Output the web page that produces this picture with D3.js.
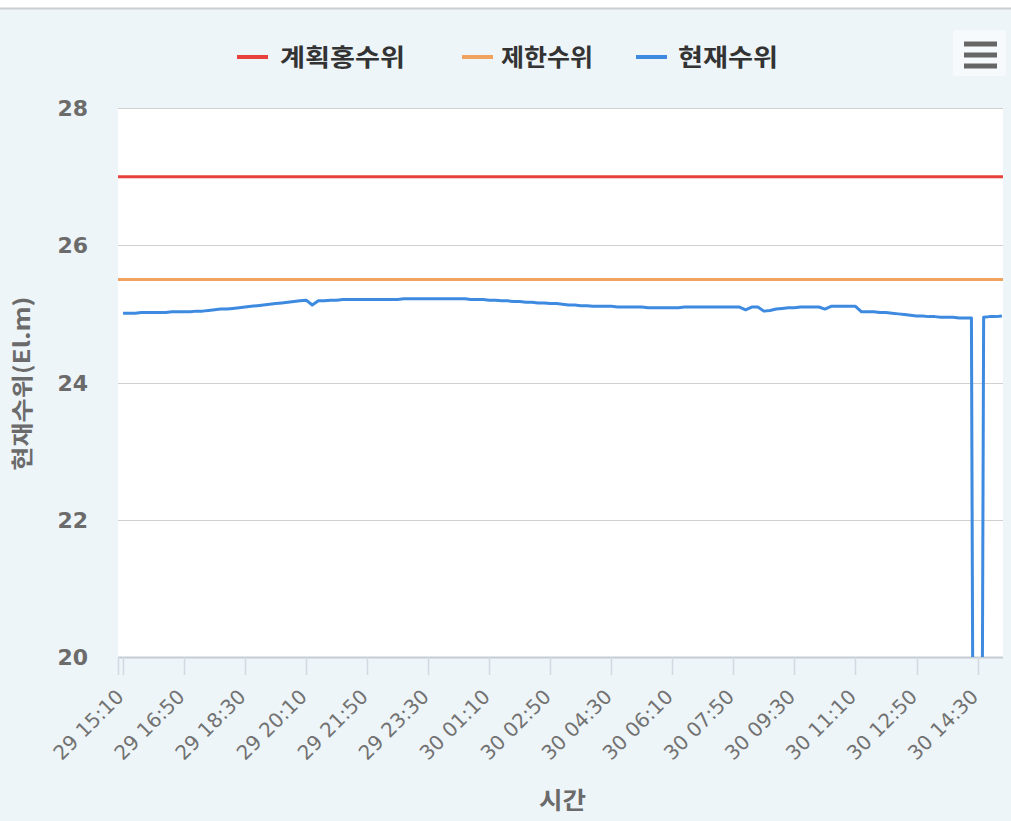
<!DOCTYPE html>
<html>
<head>
<meta charset="utf-8">
<script src="https://cdn.jsdelivr.net/npm/d3@7"></script>
<style>
  html, body { margin: 0; padding: 0; background: #eef5f9; }
  svg { display: block; }
</style>
</head>
<body>
<svg id="chart" width="1011" height="821"></svg>
<script>
// ---- data ----
const seriesNames = ["계획홍수위", "제한수위", "현재수위"];
const seriesColors = ["#e8403a", "#f0a25e", "#3d8ae0"];
const planFloodLevel = 27.0;
const limitLevel = 25.5;
const startTime = "2000-01-29 15:10"; // day 29, every 10 minutes
const currentLevel = [
  25.01, 25.01, 25.01, 25.02, 25.02, 25.02, 25.02, 25.02, 25.03, 25.03,
  25.03, 25.03, 25.04, 25.04, 25.05, 25.06, 25.07, 25.07, 25.08, 25.09,
  25.10, 25.11, 25.12, 25.13, 25.14, 25.15, 25.16, 25.17, 25.18, 25.19,
  25.20, 25.13, 25.19, 25.19, 25.20, 25.20, 25.21, 25.21, 25.21, 25.21,
  25.21, 25.21, 25.21, 25.21, 25.21, 25.21, 25.22, 25.22, 25.22, 25.22,
  25.22, 25.22, 25.22, 25.22, 25.22, 25.22, 25.22, 25.21, 25.21, 25.21,
  25.20, 25.20, 25.19, 25.19, 25.18, 25.18, 25.17, 25.17, 25.16, 25.16,
  25.15, 25.15, 25.14, 25.13, 25.13, 25.12, 25.12, 25.11, 25.11, 25.11,
  25.11, 25.10, 25.10, 25.10, 25.10, 25.10, 25.09, 25.09, 25.09, 25.09,
  25.09, 25.09, 25.10, 25.10, 25.10, 25.10, 25.10, 25.10, 25.10, 25.10,
  25.10, 25.10, 25.06, 25.10, 25.10, 25.04, 25.05, 25.07, 25.08, 25.09,
  25.09, 25.10, 25.10, 25.10, 25.10, 25.07, 25.11, 25.11, 25.11, 25.11,
  25.11, 25.03, 25.03, 25.03, 25.02, 25.02, 25.01, 25.00, 24.99, 24.98,
  24.97, 24.97, 24.96, 24.96, 24.95, 24.95, 24.95, 24.94, 24.94, 24.94,
  0.00, 24.95, 24.96, 24.96, 24.97
];
const tickLabels = ["29 15:10", "29 16:50", "29 18:30", "29 20:10", "29 21:50", "29 23:30",
  "30 01:10", "30 02:50", "30 04:30", "30 06:10", "30 07:50", "30 09:30",
  "30 11:10", "30 12:50", "30 14:30"];
const yTicks = [20, 22, 24, 26, 28];
const yTitle = "현재수위(El.m)";
const xTitle = "시간";

// categories: one per 10 minutes
const parse = d3.timeParse("%Y-%m-%d %H:%M");
const fmt = d3.timeFormat("%d %H:%M");
const t0 = parse(startTime);
const categories = currentLevel.map((_, i) => fmt(d3.timeMinute.offset(t0, i * 10)));

// ---- layout ----
const svg = d3.select("#chart");
const W = 1011, H = 821;
const plot = { left: 118, right: 1003, top: 108, bottom: 657 };

const x = d3.scaleLinear().domain([-0.5, categories.length - 0.5]).range([120, 1005]);
const y = d3.scaleLinear().domain([20, 28]).range([plot.bottom, plot.top]);

// top white strip
svg.append("rect").attr("x", 0).attr("y", 0).attr("width", W).attr("height", 8).attr("fill", "#ffffff");
svg.append("line").attr("x1", 0).attr("x2", W).attr("y1", 8.5).attr("y2", 8.5)
  .attr("stroke", "#c9cdd0").attr("stroke-width", 2);

// plot background
svg.append("rect").attr("x", plot.left).attr("y", plot.top)
  .attr("width", plot.right - plot.left).attr("height", plot.bottom - plot.top)
  .attr("fill", "#ffffff");

// grid lines
svg.append("g").selectAll("line").data(yTicks.filter(d => d !== 20)).join("line")
  .attr("x1", plot.left).attr("x2", plot.right)
  .attr("y1", d => Math.round(y(d)) + 0.5).attr("y2", d => Math.round(y(d)) + 0.5)
  .attr("stroke", "#d0d0d0").attr("stroke-width", 1);

// y tick labels
svg.append("g").selectAll("text").data(yTicks).join("text")
  .attr("x", 88).attr("y", d => y(d) + 8)
  .attr("text-anchor", "end")
  .attr("font-family", "DejaVu Sans")
  .attr("font-weight", "bold")
  .attr("font-size", 22)
  .attr("fill", "#6b6b6b")
  .text(d => d);

// y title
svg.append("text")
  .attr("transform", `translate(30, ${(plot.top + plot.bottom) / 2 + 1}) rotate(-90)`)
  .attr("text-anchor", "middle")
  .attr("font-family", "Noto Sans CJK KR")
  .attr("font-weight", "bold")
  .attr("font-size", 22)
  .attr("textLength", 174)
  .attr("lengthAdjust", "spacingAndGlyphs")
  .attr("fill", "#6b6b6b")
  .text(yTitle);

// x axis
const tickIdx = tickLabels.map(l => categories.indexOf(l));
const xAxisG = svg.append("g");
xAxisG.append("line").attr("x1", plot.left).attr("x2", plot.right)
  .attr("y1", plot.bottom + 0.5).attr("y2", plot.bottom + 0.5)
  .attr("stroke", "#c5cbd3").attr("stroke-width", 2);
xAxisG.selectAll("line.tick").data([-0.5].concat(tickIdx)).join("line")
  .attr("class", "tick")
  .attr("x1", d => Math.round(d < 0 ? plot.left : x(d)) + 0.5)
  .attr("x2", d => Math.round(d < 0 ? plot.left : x(d)) + 0.5)
  .attr("y1", plot.bottom).attr("y2", plot.bottom + 18)
  .attr("stroke", "#d3d9e0").attr("stroke-width", 1.5);
xAxisG.selectAll("text").data(tickIdx).join("text")
  .attr("transform", d => `translate(${x(d) + 2}, ${plot.bottom + 41}) rotate(-45)`)
  .attr("text-anchor", "end")
  .attr("font-family", "DejaVu Sans")
  .attr("font-size", 20)
  .attr("fill", "#727272")
  .text(d => categories[d]);

// x title
svg.append("text")
  .attr("x", (plot.left + plot.right) / 2 + 2).attr("y", 809)
  .attr("text-anchor", "middle")
  .attr("font-family", "Noto Sans CJK KR")
  .attr("font-weight", "bold")
  .attr("font-size", 24)
  .attr("textLength", 47)
  .attr("lengthAdjust", "spacingAndGlyphs")
  .attr("fill", "#6b6b6b")
  .text(xTitle);

// clip
svg.append("clipPath").attr("id", "clip").append("rect")
  .attr("x", plot.left).attr("y", plot.top - 5)
  .attr("width", plot.right - plot.left).attr("height", plot.bottom - plot.top + 5);

const lines = svg.append("g").attr("clip-path", "url(#clip)");
const lineGen = d3.line().x((d, i) => x(i)).y(d => y(d));
const flatGen = d3.line()
  .x((d, i) => i === 0 ? plot.left : (i === currentLevel.length - 1 ? plot.right : x(i)))
  .y(d => y(d));

lines.append("path").datum(currentLevel.map(() => planFloodLevel))
  .attr("d", flatGen)
  .attr("fill", "none").attr("stroke", seriesColors[0]).attr("stroke-width", 3);
lines.append("path").datum(currentLevel.map(() => limitLevel))
  .attr("d", flatGen)
  .attr("fill", "none").attr("stroke", seriesColors[1]).attr("stroke-width", 3);
lines.append("path").datum(currentLevel)
  .attr("d", lineGen)
  .attr("fill", "none").attr("stroke", seriesColors[2]).attr("stroke-width", 3)
  .attr("stroke-linejoin", "round");

// legend (layout positions)
const legend = svg.append("g");
const legendSymbolX = [237, 462, 636];
const legendTextX = [280, 501, 678];
const legendWidths = [125, 92, 100];
seriesNames.forEach((name, i) => {
  const g = legend.append("g");
  g.append("line").attr("x1", legendSymbolX[i]).attr("x2", legendSymbolX[i] + 31)
    .attr("y1", 57).attr("y2", 57)
    .attr("stroke", seriesColors[i]).attr("stroke-width", 4);
  g.append("text").attr("x", legendTextX[i]).attr("y", 66)
    .attr("font-family", "Noto Sans CJK KR")
    .attr("font-weight", "bold")
    .attr("font-size", 24)
    .attr("textLength", legendWidths[i])
    .attr("lengthAdjust", "spacingAndGlyphs")
    .attr("fill", "#333333")
    .text(name);
});

// menu button
const menu = svg.append("g");
menu.append("rect").attr("x", 953).attr("y", 30).attr("width", 53).attr("height", 46).attr("rx", 3)
  .attr("fill", "#f7fafc");
[44, 55, 66].forEach(yy => {
  menu.append("line").attr("x1", 964).attr("x2", 997).attr("y1", yy).attr("y2", yy)
    .attr("stroke", "#666666").attr("stroke-width", 5);
});
</script>
</body>
</html>
